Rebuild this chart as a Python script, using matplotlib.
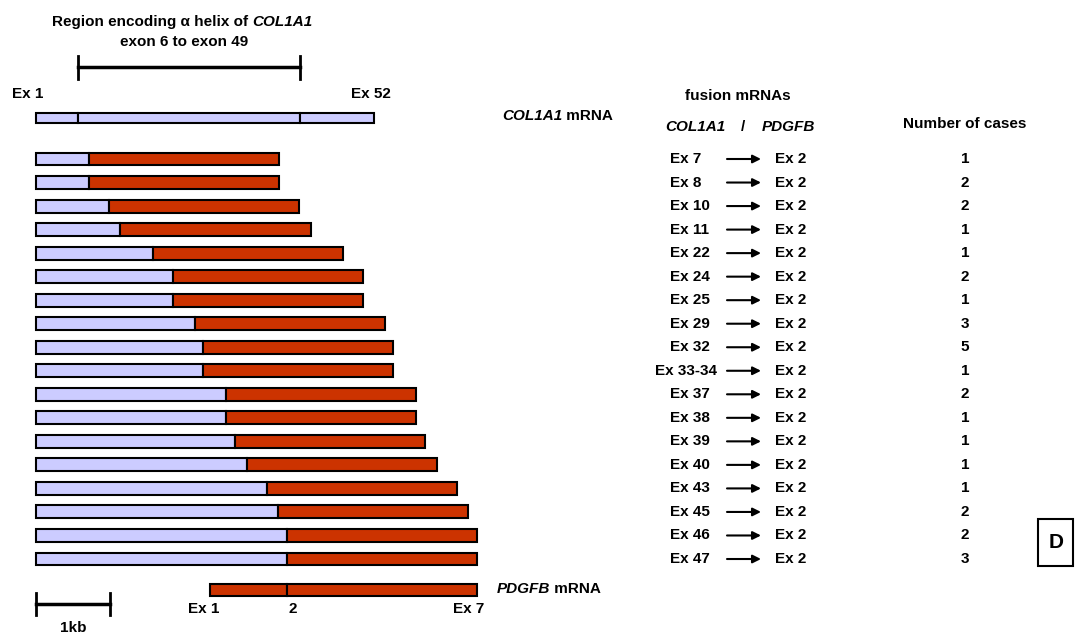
import matplotlib
matplotlib.use('Agg')
import matplotlib.pyplot as plt
from matplotlib.patches import Rectangle

plt.rcParams['font.family'] = ['Liberation Sans', 'DejaVu Sans']
plt.rcParams['font.weight'] = 'bold'
plt.rcParams['font.size'] = 11

# fusion transcripts, top to bottom
col1a1_exons = ['Ex 7', 'Ex 8', 'Ex 10', 'Ex 11', 'Ex 22', 'Ex 24', 'Ex 25', 'Ex 29',
                'Ex 32', 'Ex 33-34', 'Ex 37', 'Ex 38', 'Ex 39', 'Ex 40', 'Ex 43',
                'Ex 45', 'Ex 46', 'Ex 47']
pdgfb_exons = ['Ex 2'] * len(col1a1_exons)
n_cases = [1, 2, 2, 1, 1, 2, 1, 3, 5, 1, 2, 1, 1, 1, 1, 2, 2, 3]

# lengths in kb
col1a1_part_kb = [0.72, 0.72, 0.99, 1.14, 1.58, 1.85, 1.85, 2.15, 2.26, 2.26,
                  2.57, 2.57, 2.69, 2.85, 3.12, 3.27, 3.39, 3.39]
pdgfb_part_kb = 2.57          # PDGFB exon 2 .. exon 7
pdgfb_ex1_kb = 1.04
col1a1_mrna_kb = 4.57
helix_kb = (0.57, 3.57)       # exon 6 .. exon 49

LIGHT = '#ccccff'
RED = '#cc3300'

W, H = 1075, 635
fig = plt.figure(figsize=(W / 100, H / 100), dpi=100)
ax = fig.add_axes([0, 0, 1, 1])

# x in kb, y in rows; pixel layout of the original figure
X0, KB = 36, 74.0
Y0, ROW = 159, 23.53
ax.set_xlim(-X0 / KB, (W - X0) / KB)
ax.set_ylim((H - Y0) / ROW, -Y0 / ROW)
ax.axis('off')


def P(x, y):
    return (x - X0) / KB, (y - Y0) / ROW


def mixed(x, y, parts, ha='left', **kw):
    prev = None
    for s, style in parts:
        if prev is None:
            prev = ax.text(*P(x, y), s, style=style, ha='left', va='center', **kw)
        else:
            prev = ax.annotate(s, xy=(1, 0.5), xycoords=prev, style=style,
                               ha='left', va='center', **kw)
    return prev


bar_kw = dict(edgecolor='black', linewidth=1.5)
rows = range(len(col1a1_part_kb))

# fusion transcripts
ax.barh(rows, col1a1_part_kb, height=0.55, color=LIGHT, **bar_kw)
ax.barh(rows, [pdgfb_part_kb] * len(col1a1_part_kb), left=col1a1_part_kb,
        height=0.55, color=RED, **bar_kw)

# COL1A1 mRNA
y_col = P(0, 118)[1]
seg_left = [0, helix_kb[0], helix_kb[1]]
seg_w = [helix_kb[0], helix_kb[1] - helix_kb[0], col1a1_mrna_kb - helix_kb[1]]
ax.barh([y_col] * 3, seg_w, left=seg_left, height=0.43, color=LIGHT, **bar_kw)

# helix bracket
yb = P(0, 67)[1]
ax.plot(helix_kb, [yb, yb], color='black', lw=2.5)
for xk in helix_kb:
    ax.plot([xk, xk], [P(0, 56)[1], P(0, 79)[1]], color='black', lw=2)

# PDGFB mRNA, aligned with the longest fusion
pd_end = max(c + pdgfb_part_kb for c in col1a1_part_kb)
pd_start = pd_end - pdgfb_part_kb - pdgfb_ex1_kb
y_pd = P(0, 590)[1]
ax.barh([y_pd] * 2, [pdgfb_ex1_kb, pdgfb_part_kb],
        left=[pd_start, pd_start + pdgfb_ex1_kb], height=0.5, color=RED, **bar_kw)

# scale bar 1 kb
ys = P(0, 604)[1]
ax.plot([0, 1], [ys, ys], color='black', lw=2.5)
for xk in (0, 1):
    ax.plot([xk, xk], [P(0, 593)[1], P(0, 615)[1]], color='black', lw=2)
ax.text(0.5, P(0, 628)[1], '1kb', ha='center', va='center')

# title
mixed(52, 22, [('Region encoding \u03b1 helix of ', 'normal'), ('COL1A1', 'italic')])
ax.text(*P(184, 42), 'exon 6 to exon 49', ha='center', va='center')

# exon labels
ax.text(*P(28, 94), 'Ex 1', ha='center', va='center')
ax.text(col1a1_mrna_kb - 0.05, P(0, 94)[1], 'Ex 52', ha='center', va='center')
ax.text(pd_start - 0.08, P(0, 609)[1], 'Ex 1', ha='center', va='center')
ax.text(pd_start + pdgfb_ex1_kb + 0.08, P(0, 609)[1], '2', ha='center', va='center')
ax.text(pd_end - 0.12, P(0, 609)[1], 'Ex 7', ha='center', va='center')

mixed(502, 116, [('COL1A1', 'italic'), (' mRNA', 'normal')])
mixed(497, 589, [('PDGFB', 'italic'), (' mRNA', 'normal')])

# right side table
ax.text(*P(738, 96), 'fusion mRNAs', ha='center', va='center')
ax.text(*P(665, 127), 'COL1A1', style='italic', ha='left', va='center')
ax.text(*P(743, 127), '/', ha='center', va='center')
ax.text(*P(762, 127), 'PDGFB', style='italic', ha='left', va='center')
ax.text(*P(965, 124), 'Number of cases', ha='center', va='center')

for i, (a, b, n) in enumerate(zip(col1a1_exons, pdgfb_exons, n_cases)):
    xl = 670 if len(a) <= 5 else 655
    ax.text(P(xl, 0)[0], i, a, ha='left', va='center')
    ax.annotate('', xy=(P(761, 0)[0], i), xytext=(P(727, 0)[0], i),
                arrowprops=dict(arrowstyle='-|>', lw=1.5, color='black',
                                mutation_scale=12, shrinkA=0, shrinkB=0))
    ax.text(P(775, 0)[0], i, b, ha='left', va='center')
    ax.text(P(965, 0)[0], i, str(n), ha='center', va='center')

# panel letter
bx, by = P(1038, 519)
ax.add_patch(Rectangle((bx, by), 35 / KB, 47 / ROW, facecolor='white',
                       edgecolor='black', lw=1.5))
ax.text(*P(1056, 543), 'D', ha='center', va='center', fontsize=15)

fig.savefig('out.png', dpi=100)
